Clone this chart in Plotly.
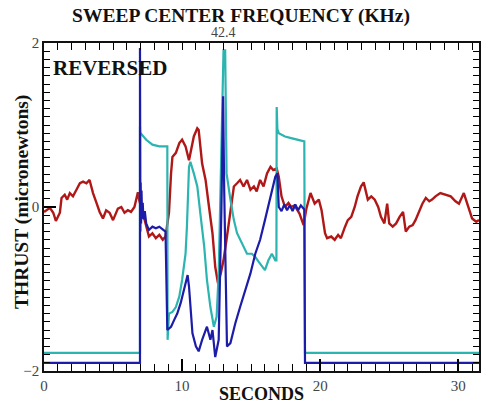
import plotly.graph_objects as go

# ---------------- data ----------------
red_t = [0, 0.43, 0.67, 0.86, 1.15, 1.27, 1.5, 1.68, 1.87, 2.1, 2.35, 2.6, 2.83, 3.07, 3.3, 3.55, 3.8,
         4.03, 4.27, 4.5, 4.75, 5.0, 5.35, 5.6, 5.83, 6.07, 6.3, 6.55, 6.8, 6.9, 7.15, 7.4, 7.6, 7.85,
         8.1, 8.35, 8.6, 8.8, 9.05, 9.2, 9.3, 9.55, 9.8, 10.0, 10.25, 10.5, 10.6, 10.85, 11.1, 11.2,
         11.45, 11.7, 11.95, 12.2, 12.4, 12.6, 12.8, 13.0, 13.25, 13.5, 13.75, 13.98, 14.2, 14.45, 14.7,
         14.95, 15.2, 15.4, 15.65, 15.9, 16.15, 16.4, 16.6, 16.85, 17.0, 17.2, 17.45, 17.7, 17.9, 18.15,
         18.5, 18.8, 19.0, 19.3, 19.6, 19.9, 20.1, 20.35, 20.5, 20.8, 21.05, 21.3, 21.5, 21.8, 22.0,
         22.25, 22.5, 22.7, 22.95, 23.15, 23.45, 23.7, 23.95, 24.2, 24.4, 24.65, 24.85, 25.0, 25.25,
         25.5, 25.75, 26.0, 26.2, 26.45, 26.7, 26.9, 27.15, 27.4, 27.65, 27.9, 28.1, 28.35, 28.7, 29.1,
         29.45, 29.8, 30.05, 30.4, 30.65, 31.0, 31.3, 31.5]
red_v = [-0.06, -0.01, -0.07, -0.17, -0.07, 0.11, 0.15, 0.09, 0.17, 0.13, 0.21, 0.29, 0.31, 0.29, 0.33,
         0.17, 0.05, -0.06, -0.14, -0.04, -0.07, -0.16, -0.02, 0.0, -0.07, -0.04, -0.06, 0.0, 0.18, 0.08,
         -0.07, -0.24, -0.36, -0.32, -0.38, -0.34, -0.40, -0.36, -0.07, 0.41, 0.61, 0.66, 0.78, 0.82,
         0.74, 0.57, 0.66, 0.86, 0.96, 0.94, 0.53, 0.33, 0.0, -0.32, -0.73, -0.93, -0.81, -0.65, -0.36,
         -0.08, 0.25, 0.29, 0.33, 0.25, 0.33, 0.21, 0.25, 0.19, 0.33, 0.25, 0.41, 0.49, 0.45, 0.47, 0.37,
         0.13, 0.0, 0.05, 0.0, 0.02, -0.08, -0.22, -0.02, 0.17, 0.04, 0.09, -0.04, -0.32, -0.38, -0.36,
         -0.40, -0.34, -0.38, -0.24, -0.16, -0.12, 0.0, 0.13, 0.25, 0.30, 0.09, 0.13, 0.09, 0.0, -0.12,
         -0.2, 0.04, -0.2, -0.24, -0.2, -0.12, -0.06, -0.30, -0.24, -0.22, -0.16, -0.06, 0.04, 0.11,
         0.07, 0.09, 0.13, 0.17, 0.15, 0.13, 0.07, 0.04, 0.17, 0.04, -0.14, -0.18, -0.16]

cyan_t = [0, 6.95, 6.95, 6.97, 7.0, 7.4, 7.85, 8.35, 8.8, 8.93, 8.95, 9.05, 9.3, 9.55, 9.8, 10.0, 10.25,
          10.35, 10.5, 10.6, 10.85, 11.1, 11.35, 11.6, 11.8, 12.05, 12.3, 12.5, 12.65, 12.8, 12.9, 13.0,
          13.12, 13.22, 13.5, 13.75, 13.98, 14.35, 14.7, 15.05, 15.3, 15.55, 15.8, 16.0, 16.25, 16.5,
          16.75, 16.83, 16.85, 16.9, 17.0, 17.45, 17.9, 18.4, 18.85, 18.9, 31.5]
cyan_v = [-1.78, -1.78, 0.98, 0.88, 0.90, 0.82, 0.76, 0.74, 0.74, 0.74, -1.62, -1.30, -1.28, -1.22, -1.09,
          -0.89, -0.57, -0.24, 0.49, 0.55, 0.41, 0.25, -0.12, -0.48, -0.89, -1.22, -1.46, -1.34, -0.81,
          0.41, 1.43, 1.91, 1.91, 0.41, 0.09, -0.16, -0.32, -0.44, -0.57, -0.57, -0.61, -0.67, -0.73,
          -0.77, -0.65, -0.57, -0.65, -0.65, 1.22, 0.95, 0.90, 0.86, 0.84, 0.82, 0.80, -1.78, -1.78]

blue_t = [0, 6.95, 6.95, 6.96, 6.98, 7.0, 7.03, 7.06, 7.1, 7.15, 7.2, 7.3, 7.4, 7.6, 7.85, 8.1, 8.35,
          8.6, 8.8, 8.93, 9.2, 9.42, 9.65, 9.9, 10.15, 10.4, 10.5, 10.75, 11.0, 11.2, 11.45, 11.8, 12.05,
          12.2, 12.4, 12.65, 12.85, 12.97, 13.05, 13.15, 13.25, 13.5, 13.85, 14.2, 14.6, 14.95, 15.3,
          15.65, 16.0, 16.4, 16.75, 16.9, 17.0, 17.2, 17.4, 17.6, 17.8, 18.0, 18.2, 18.4, 18.6, 18.85,
          18.9, 31.5]
blue_v = [-1.90, -1.90, 1.94, 0.45, -0.30, 0.30, -0.20, 0.20, -0.10, 0.05, -0.15, -0.05, -0.20, -0.28,
          -0.24, -0.26, -0.24, -0.28, -0.30, -1.50, -1.46, -1.38, -1.30, -1.17, -1.01, -0.83, -0.97,
          -1.54, -1.70, -1.76, -1.62, -1.46, -1.62, -1.50, -1.83, -1.62, 0.0, 1.35, 0.2, -0.81, -1.70,
          -1.66, -1.42, -1.22, -1.01, -0.81, -0.57, -0.40, -0.16, 0.13, 0.37, 0.41, 0.0, -0.05, 0.03,
          -0.04, 0.02, -0.05, 0.03, -0.04, 0.02, -0.03, -1.90, -1.90]

x_range = [0, 31.5]
y_range = [-2, 2]
x_tick_step = 10
y_tick_step = 2
top_tick_pos = 13.0
top_tick_text = "42.4"

# tick positions for the mirrored top / right edges (no labels)
top_tickvals = list(range(0, 32))
right_tickvals = [k / 10 for k in range(-20, 21)]

SERIF = "Liberation Serif"

fig = go.Figure()
fig.add_trace(go.Scatter(x=red_t, y=red_v, mode="lines",
                         line=dict(color="#b01818", width=2.4), showlegend=False))
fig.add_trace(go.Scatter(x=cyan_t, y=cyan_v, mode="lines",
                         line=dict(color="#2cb4b0", width=2.2), showlegend=False))
fig.add_trace(go.Scatter(x=blue_t, y=blue_v, mode="lines",
                         line=dict(color="#1c1ca8", width=2.2), showlegend=False))
# invisible helper trace that activates the top / right tick axes
fig.add_trace(go.Scatter(x=red_t, y=red_v, xaxis="x2", yaxis="y2", mode="lines",
                         line=dict(width=0), opacity=0, hoverinfo="skip", showlegend=False))

fig.update_layout(
    width=482, height=404,
    margin=dict(l=44, r=1, t=43, b=33),
    paper_bgcolor="white", plot_bgcolor="white",
    font=dict(family=SERIF, color="#444444", size=14),
    title=dict(text="<b>SWEEP CENTER FREQUENCY (KHz)</b>", x=0.5, xanchor="center",
               y=1 - 15 / 404, yanchor="middle", yref="container",
               font=dict(family=SERIF, size=19.5, color="#111111")),
    xaxis=dict(range=x_range, tickmode="linear", tick0=0, dtick=x_tick_step,
               ticks="inside", ticklen=12, tickwidth=1.5,
               tickcolor="#000", showgrid=False, zeroline=False, showline=True, linecolor="#111",
               linewidth=1.5, mirror=True,
               minor=dict(dtick=1, ticks="inside", ticklen=7, tickwidth=1, tickcolor="#000",
                          showgrid=False),
               tickfont=dict(family=SERIF, size=15, color="#444")),
    yaxis=dict(range=y_range, tickmode="linear", tick0=-2, dtick=y_tick_step,
               ticks="inside", ticklen=12, tickwidth=1.5,
               tickcolor="#000", showgrid=False, zeroline=False, showline=True, linecolor="#111",
               linewidth=1.5, mirror=True,
               minor=dict(dtick=0.1, ticks="inside", ticklen=6, tickwidth=1, tickcolor="#000",
                          showgrid=False),
               tickfont=dict(family=SERIF, size=15, color="#444")),
    xaxis2=dict(range=x_range, overlaying="x", side="top", anchor="y2",
                tickmode="array", tickvals=top_tickvals, showticklabels=False,
                ticks="inside", ticklen=7, tickwidth=1, tickcolor="#000",
                showgrid=False, zeroline=False, showline=False),
    yaxis2=dict(range=y_range, overlaying="y", side="right", anchor="x2",
                tickmode="array", tickvals=right_tickvals, showticklabels=False,
                ticks="inside", ticklen=6, tickwidth=1, tickcolor="#000",
                showgrid=False, zeroline=False, showline=False),
    annotations=[
        dict(text=top_tick_text, xref="x", yref="paper", x=top_tick_pos, y=1, xanchor="center",
             yanchor="bottom", yshift=1, showarrow=False,
             font=dict(family=SERIF, size=14, color="#444")),
        dict(text="<b>REVERSED</b>", xref="paper", yref="paper", x=0, y=1, xanchor="left",
             yanchor="top", xshift=7, yshift=-11, showarrow=False,
             font=dict(family=SERIF, size=21, color="#111")),
        dict(text="<b>SECONDS</b>", xref="paper", yref="paper", x=0.5, y=0, xanchor="center",
             yanchor="middle", yshift=-23, showarrow=False,
             font=dict(family=SERIF, size=18, color="#111")),
        dict(text="<b>THRUST (micronewtons)</b>", xref="paper", yref="paper", x=0, y=0.5,
             xanchor="center", yanchor="middle", xshift=-22, yshift=5, textangle=-90,
             showarrow=False, font=dict(family=SERIF, size=19.5, color="#111")),
    ],
)

fig.write_html("out.html")
